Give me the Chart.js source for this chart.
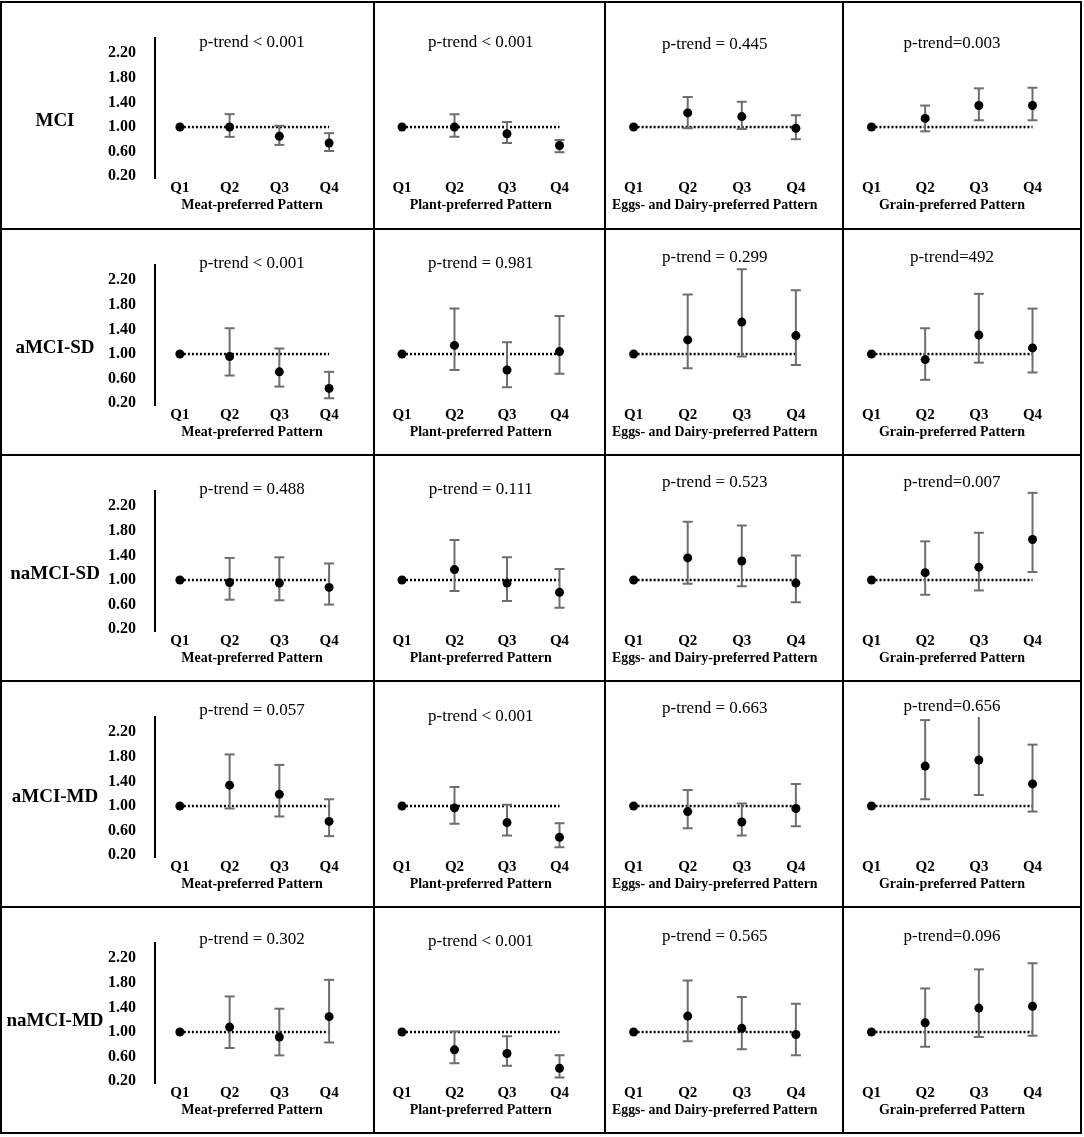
<html>

<head>
  <!-- Chart.js -->
  <script src="https://cdn.jsdelivr.net/npm/chart.js@4.4.1/dist/chart.umd.min.js"></script>
  <style>
    body { margin: 0; background: #fff; }
    #grid { position: relative; width: 1084px; height: 1137px; overflow: hidden; }
    .plot { position: absolute; }
    .panel { position: absolute; box-sizing: border-box; border: 2px solid #000; }
    .row-label {
      position: absolute; transform: translate(-50%, -50%); white-space: nowrap;
      font: bold 19px "Liberation Serif", "Times New Roman", serif; color: #000;
    }
  </style>
</head>

<body>
  <div id="grid"></div>

<script>
  // Labels
  const quartiles = ['Q1', 'Q2', 'Q3', 'Q4'];
  const outcomes = ['MCI', 'aMCI-SD', 'naMCI-SD', 'aMCI-MD', 'naMCI-MD'];
  const patterns = ['Meat-preferred Pattern', 'Plant-preferred Pattern',
    'Eggs- and Dairy-preferred Pattern', 'Grain-preferred Pattern'];
  const yTicks = [0.2, 0.6, 1.0, 1.4, 1.8, 2.2];

  // p-trend per outcome (rows) and pattern (columns)
  const pTrend = [
    ['p-trend < 0.001', 'p-trend < 0.001', 'p-trend = 0.445', 'p-trend=0.003'],
    ['p-trend < 0.001', 'p-trend = 0.981', 'p-trend = 0.299', 'p-trend=492'],
    ['p-trend = 0.488', 'p-trend = 0.111', 'p-trend = 0.523', 'p-trend=0.007'],
    ['p-trend = 0.057', 'p-trend < 0.001', 'p-trend = 0.663', 'p-trend=0.656'],
    ['p-trend = 0.302', 'p-trend < 0.001', 'p-trend = 0.565', 'p-trend=0.096']
  ];

  // Odds ratios and 95% CI, one row per outcome, Q1..Q4
  const meatOR = [[1, 1.00, 0.85, 0.74], [1, 0.96, 0.71, 0.44], [1, 0.96, 0.95, 0.88], [1, 1.34, 1.19, 0.75], [1, 1.08, 0.92, 1.25]];
  const meatLow = [[null, 0.84, 0.71, 0.61], [null, 0.65, 0.47, 0.28], [null, 0.68, 0.67, 0.60], [null, 0.96, 0.83, 0.51], [null, 0.74, 0.62, 0.83]];
  const meatHigh = [[null, 1.21, 1.02, 0.90], [null, 1.42, 1.09, 0.71], [null, 1.36, 1.37, 1.27], [null, 1.84, 1.67, 1.11], [null, 1.58, 1.38, 1.85]];

  const plantOR = [[1, 1.00, 0.89, 0.70], [1, 1.14, 0.74, 1.04], [1, 1.17, 0.95, 0.80], [1, 0.97, 0.73, 0.49], [1, 0.71, 0.65, 0.41]];
  const plantLow = [[null, 0.84, 0.74, 0.59], [null, 0.74, 0.46, 0.68], [null, 0.82, 0.66, 0.55], [null, 0.71, 0.52, 0.33], [null, 0.49, 0.45, 0.26]];
  const plantHigh = [[null, 1.21, 1.08, 0.79], [null, 1.74, 1.19, 1.62], [null, 1.65, 1.37, 1.18], [null, 1.31, 1.02, 0.72], [null, 1.01, 0.93, 0.62]];

  const eggsOR = [[1, 1.23, 1.17, 0.98], [1, 1.23, 1.52, 1.30], [1, 1.36, 1.31, 0.95], [1, 0.91, 0.74, 0.96], [1, 1.26, 1.06, 0.96]];
  const eggsLow = [[null, 0.98, 0.97, 0.80], [null, 0.77, 0.96, 0.82], [null, 0.94, 0.90, 0.64], [null, 0.64, 0.52, 0.67], [null, 0.85, 0.72, 0.62]];
  const eggsHigh = [[null, 1.49, 1.41, 1.19], [null, 1.97, 2.38, 2.04], [null, 1.95, 1.89, 1.40], [null, 1.26, 1.04, 1.36], [null, 1.84, 1.57, 1.46]];

  const grainOR = [[1, 1.14, 1.35, 1.35], [1, 0.91, 1.31, 1.10], [1, 1.12, 1.21, 1.66], [1, 1.65, 1.75, 1.36], [1, 1.15, 1.39, 1.42]];
  const grainLow = [[null, 0.93, 1.11, 1.11], [null, 0.58, 0.86, 0.70], [null, 0.76, 0.83, 1.13], [null, 1.11, 1.18, 0.91], [null, 0.76, 0.92, 0.94]];
  const grainHigh = [[null, 1.35, 1.63, 1.64], [null, 1.42, 1.98, 1.74], [null, 1.63, 1.77, 2.42], [null, 2.40, 2.50, 2.00], [null, 1.71, 2.02, 2.12]];

  const orData = [meatOR, plantOR, eggsOR, grainOR];
  const lowData = [meatLow, plantLow, eggsLow, grainLow];
  const highData = [meatHigh, plantHigh, eggsHigh, grainHigh];

  // Grid layout (page pixels)
  const colEdges = [1, 374, 605, 843, 1081];
  const rowEdges = [2, 229, 455, 681, 907, 1133];
  const xMin = [0.5, 0.6, 0.6, 0.6];
  const padLeft = [0, 2, 5, 0.5];
  const padRight = [25, 24.5, 25.5, 27];
  const titleY = [[41, 41, 43, 42], [35, 35, 29, 29], [35, 35, 28, 28], [30, 36, 28, 26], [33, 35, 30, 30]];
  const labelY = [118, 118, 118, 115, 113];

  const serif = '"Liberation Serif", "Times New Roman", serif';
  const grid = document.getElementById('grid');

  // Vertical CI segments separated by gaps
  function errorBarPoints(low, high) {
    const pts = [];
    low.forEach((l, i) => {
      if (l === null) return;
      pts.push({ x: i + 1, y: l }, { x: i + 1, y: high[i] }, { x: i + 1, y: null });
    });
    return pts;
  }

  function makePanel(r, c) {
    const left = colEdges[c], top = rowEdges[r];
    const w = colEdges[c + 1] - left, h = rowEdges[r + 1] - top;

    const canvas = document.createElement('canvas');
    canvas.className = 'plot';
    canvas.width = w;
    canvas.height = h;
    canvas.style.left = left + 'px';
    canvas.style.top = top + 'px';
    grid.appendChild(canvas);

    const box = document.createElement('div');
    box.className = 'panel';
    box.style.left = (left - 1) + 'px';
    box.style.top = (top - 1) + 'px';
    box.style.width = (w + 2) + 'px';
    box.style.height = (h + 2) + 'px';
    grid.appendChild(box);

    const lineH = 20.4;
    const padTop = titleY[r][c] - lineH / 2;

    new Chart(canvas.getContext('2d'), {
      type: 'line',
      data: {
        datasets: [{
          label: 'OR',
          data: orData[c][r].map((v, i) => ({ x: i + 1, y: v })),
          showLine: false,
          pointRadius: 4.5,
          pointBackgroundColor: '#000',
          pointBorderColor: '#000',
          pointBorderWidth: 0,
          order: 0
        },
        {
          label: '95% CI',
          data: errorBarPoints(lowData[c][r], highData[c][r]),
          borderColor: '#6e6e6e',
          borderWidth: 2,
          pointStyle: 'line',
          pointRadius: 5,
          pointBorderWidth: 2,
          pointBorderColor: '#6e6e6e',
          spanGaps: false,
          order: 1
        },
        {
          label: 'Reference',
          data: [{ x: 1, y: 1 }, { x: 4, y: 1 }],
          borderColor: '#000',
          borderWidth: 2.5,
          borderDash: [2, 2],
          pointRadius: 0,
          order: 2
        }]
      },
      options: {
        responsive: false,
        animation: false,
        events: [],
        layout: {
          padding: { left: padLeft[c], right: padRight[c], top: 0, bottom: h - 176 - 36 }
        },
        plugins: {
          legend: { display: false },
          tooltip: { enabled: false },
          title: {
            display: true,
            text: pTrend[r][c],
            fullSize: false,
            color: '#000',
            font: { family: serif, size: 17, weight: 'normal', lineHeight: 1.2 },
            padding: { top: padTop, bottom: 36 - lineH - padTop }
          }
        },
        scales: {
          x: {
            type: 'linear',
            min: xMin[c],
            max: 4.4,
            grid: { display: false, drawTicks: false },
            border: { display: false },
            afterBuildTicks: (s) => { s.ticks = quartiles.map((q, i) => ({ value: i + 1 })); },
            afterFit: (s) => { s.height = 36; },
            ticks: {
              callback: (v) => quartiles[v - 1],
              padding: 1,
              maxRotation: 0,
              autoSkip: false,
              color: '#000',
              font: { family: serif, size: 15, weight: 'bold', lineHeight: 1.2 }
            },
            title: {
              display: true,
              text: patterns[c],
              padding: 0,
              color: '#000',
              font: { family: serif, size: 14, weight: 'bold', lineHeight: 1.2 }
            }
          },
          y: {
            type: 'linear',
            min: 0.17,
            max: 2.45,
            display: c === 0,
            grid: { display: false, drawTicks: false },
            border: { display: true, color: '#000', width: 2 },
            afterBuildTicks: (s) => { s.ticks = yTicks.map((v) => ({ value: v })); },
            afterFit: (s) => { s.width = c === 0 ? 154 : 0; },
            ticks: {
              callback: (v) => v.toFixed(2),
              padding: 19,
              color: '#000',
              font: { family: serif, size: 16, weight: 'bold' }
            }
          }
        }
      }
    });
  }

  for (let r = 0; r < outcomes.length; r++) {
    for (let c = 0; c < patterns.length; c++) {
      makePanel(r, c);
    }
    // Outcome name at the left of each row
    const label = document.createElement('div');
    label.className = 'row-label';
    label.textContent = outcomes[r];
    label.style.left = '55px';
    label.style.top = (rowEdges[r] + labelY[r]) + 'px';
    grid.appendChild(label);
  }
</script>
</body>

</html>
